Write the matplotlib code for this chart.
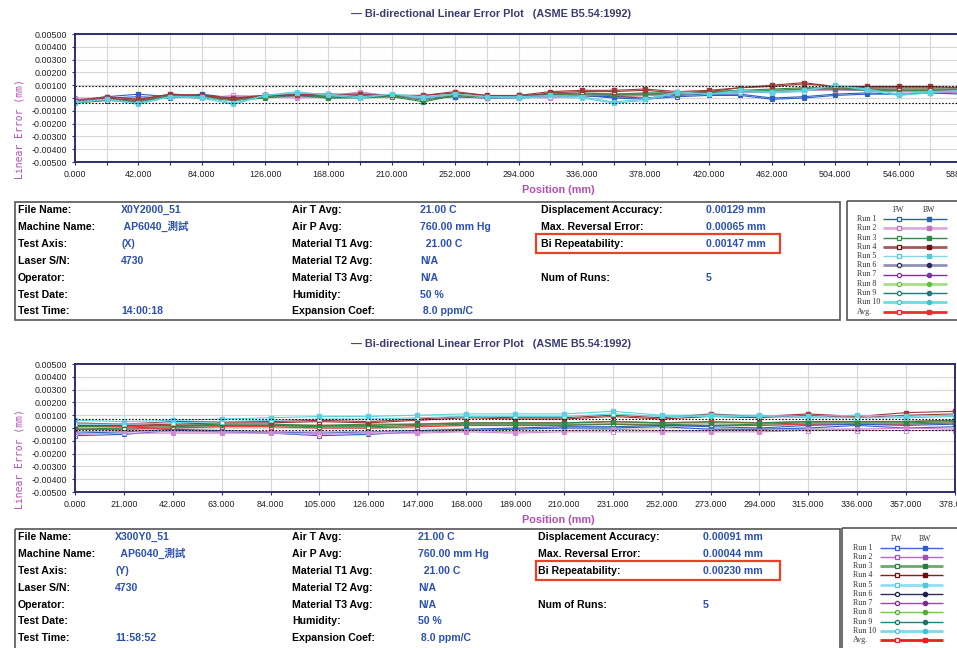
import matplotlib
matplotlib.use('Agg')
import matplotlib.pyplot as plt
from matplotlib.patches import Rectangle
import numpy as np

W, H = 957, 648

# ---- data: linear error in micrometres ----
top_pos = list(range(0, 589, 21))
top_fw = [
    [-0.3, 0.0, 0.1, 0.0, 0.2, -0.1, 0.1, 0.2, 0.0, 0.1, 0.1, 0.0, 0.1, 0.0, 0.0, 0.1, 0.2, 0.0, -0.1, 0.1, 0.2, 0.2, -0.1, 0.0, 0.2, 0.3, 0.3, 0.4, 0.3],
    [-0.1, -0.1, -0.2, 0.1, 0.0, 0.2, 0.1, 0.0, 0.1, 0.5, 0.1, 0.0, 0.2, 0.0, 0.1, 0.0, 0.2, 0.3, 0.2, 0.3, 0.4, 0.4, 0.5, 0.6, 0.7, 0.6, 0.6, 0.5, 0.4],
    [-0.4, -0.2, -0.3, 0.1, 0.0, -0.2, 0.0, 0.2, 0.0, 0.0, 0.1, -0.3, 0.2, 0.1, 0.1, 0.3, 0.3, 0.3, 0.3, 0.3, 0.4, 0.5, 0.6, 0.7, 0.7, 0.6, 0.6, 0.6, 0.7],
    [-0.3, 0.0, -0.2, 0.3, 0.2, -0.1, 0.2, 0.2, 0.3, 0.2, 0.2, 0.2, 0.4, 0.2, 0.1, 0.4, 0.5, 0.5, 0.6, 0.4, 0.5, 0.8, 0.9, 1.1, 0.9, 0.8, 0.8, 0.8, 0.8],
    [-0.4, -0.1, -0.5, 0.1, 0.0, -0.5, 0.2, 0.5, 0.2, 0.0, 0.3, 0.0, 0.3, 0.1, 0.0, 0.1, 0.0, -0.4, -0.2, 0.4, 0.3, 0.5, 0.4, 0.5, 1.0, 0.6, 0.2, 0.4, 0.6],
]
top_bw = [
    [-0.2, 0.1, 0.3, 0.1, 0.3, 0.0, 0.2, 0.2, 0.1, 0.1, 0.2, 0.0, 0.1, 0.0, 0.1, 0.2, 0.2, 0.1, 0.0, 0.2, 0.3, 0.3, 0.0, 0.1, 0.3, 0.4, 0.3, 0.4, 0.4],
    [0.0, 0.0, -0.1, 0.2, 0.1, 0.1, 0.2, 0.1, 0.0, 0.4, 0.2, 0.1, 0.2, 0.1, 0.0, 0.1, 0.3, 0.3, 0.3, 0.3, 0.4, 0.5, 0.5, 0.6, 0.6, 0.6, 0.5, 0.5, 0.5],
    [-0.3, -0.1, -0.3, 0.2, 0.1, -0.1, 0.1, 0.3, 0.1, 0.1, 0.2, -0.2, 0.2, 0.1, 0.2, 0.3, 0.4, 0.3, 0.4, 0.4, 0.5, 0.6, 0.7, 0.8, 0.8, 0.7, 0.7, 0.7, 0.7],
    [-0.2, 0.1, -0.1, 0.3, 0.2, 0.0, 0.2, 0.3, 0.3, 0.3, 0.2, 0.2, 0.5, 0.2, 0.2, 0.5, 0.6, 0.6, 0.7, 0.5, 0.6, 0.8, 1.0, 1.2, 0.9, 0.9, 0.9, 0.9, 0.8],
    [-0.3, -0.1, -0.4, 0.1, 0.1, -0.4, 0.2, 0.4, 0.3, 0.1, 0.3, 0.1, 0.3, 0.1, 0.1, 0.2, 0.1, -0.3, -0.1, 0.5, 0.3, 0.6, 0.5, 0.6, 1.0, 0.7, 0.3, 0.5, 0.6],
]
top_avg_fw = [-0.3, -0.1, -0.2, 0.1, 0.1, -0.1, 0.1, 0.2, 0.1, 0.2, 0.1, 0.0, 0.2, 0.1, 0.1, 0.2, 0.2, 0.1, 0.2, 0.3, 0.4, 0.5, 0.5, 0.6, 0.7, 0.6, 0.5, 0.5, 0.6]
top_avg_bw = [-0.2, 0.0, -0.1, 0.2, 0.2, 0.0, 0.2, 0.3, 0.2, 0.2, 0.2, 0.0, 0.3, 0.1, 0.1, 0.3, 0.3, 0.2, 0.3, 0.4, 0.4, 0.6, 0.5, 0.7, 0.7, 0.7, 0.6, 0.6, 0.6]
top_band = [0.92, -0.40]

bot_pos = list(range(0, 379, 21))
bot_fw = [
    [-0.6, -0.5, -0.2, -0.3, -0.4, -0.6, -0.5, -0.3, -0.2, -0.1, 0.0, 0.0, 0.1, -0.1, -0.1, 0.0, 0.2, 0.0, 0.1],
    [-0.5, -0.4, -0.4, -0.4, -0.4, -0.5, -0.4, -0.4, -0.3, -0.4, -0.3, -0.3, -0.3, -0.3, -0.3, -0.2, -0.2, -0.2, -0.2],
    [-0.1, 0.0, 0.1, 0.2, 0.2, 0.1, 0.1, 0.2, 0.3, 0.3, 0.3, 0.3, 0.3, 0.2, 0.3, 0.4, 0.4, 0.4, 0.5],
    [0.2, 0.2, 0.3, 0.4, 0.4, 0.5, 0.4, 0.6, 0.8, 0.7, 0.7, 0.9, 0.7, 0.9, 0.8, 1.0, 0.8, 1.0, 1.1],
    [0.3, 0.3, 0.4, 0.5, 0.6, 0.7, 0.7, 0.8, 0.9, 0.9, 0.9, 1.1, 0.9, 0.9, 0.9, 0.8, 0.8, 0.8, 0.9],
]
bot_bw = [
    [-0.4, -0.3, -0.1, -0.2, -0.3, -0.4, -0.3, -0.2, -0.1, 0.0, 0.1, 0.1, 0.2, 0.1, 0.0, 0.2, 0.3, 0.2, 0.3],
    [-0.3, -0.2, -0.3, -0.3, -0.3, -0.3, -0.3, -0.3, -0.2, -0.3, -0.2, -0.1, -0.2, -0.2, -0.2, -0.1, -0.1, 0.0, -0.1],
    [0.1, 0.2, 0.2, 0.3, 0.3, 0.2, 0.3, 0.3, 0.4, 0.4, 0.4, 0.5, 0.4, 0.4, 0.4, 0.5, 0.5, 0.5, 0.6],
    [0.4, 0.3, 0.5, 0.5, 0.5, 0.6, 0.5, 0.7, 0.9, 0.8, 0.8, 1.0, 0.8, 1.1, 0.9, 1.1, 0.9, 1.2, 1.3],
    [0.6, 0.5, 0.6, 0.7, 0.8, 0.9, 0.9, 1.0, 1.1, 1.1, 1.1, 1.3, 1.0, 1.0, 1.0, 0.9, 1.0, 0.9, 1.0],
]
bot_avg_fw = [-0.1, -0.1, 0.0, 0.1, 0.1, 0.0, 0.0, 0.1, 0.2, 0.2, 0.2, 0.3, 0.2, 0.2, 0.2, 0.3, 0.3, 0.3, 0.4]
bot_avg_bw = [0.1, 0.1, 0.2, 0.2, 0.2, 0.2, 0.2, 0.3, 0.4, 0.4, 0.4, 0.5, 0.4, 0.5, 0.4, 0.5, 0.5, 0.5, 0.6]
bot_band = [0.72, -0.15]

run_colors = ['#2c5fc0', '#d08ad0', '#2e8b45', '#9c3a3a', '#60cfe0']
avg_color = '#e84040'

# ---- report text ----
labels_c1 = ['File Name:', 'Machine Name:', 'Test Axis:', 'Laser S/N:', 'Operator:', 'Test Date:', 'Test Time:']
labels_c2 = ['Air T Avg:', 'Air P Avg:', 'Material T1 Avg:', 'Material T2 Avg:', 'Material T3 Avg:', 'Humidity:', 'Expansion Coef:']
labels_c3 = ['Displacement Accuracy:', 'Max. Reversal Error:', 'Bi Repeatability:', '', 'Num of Runs:', '', '']
top_c1 = ['X0Y2000_51', ' AP6040_測試', '(X)', '4730', '', '', '14:00:18']
top_c2 = ['21.00 C', '760.00 mm Hg', '  21.00 C', 'N/A', 'N/A', '50 %', ' 8.0 ppm/C']
top_c3 = ['0.00129 mm', '0.00065 mm', '0.00147 mm', '', '5', '', '']
bot_c1 = ['X300Y0_51', '  AP6040_測試', '(Y)', '4730', '', '', '11:58:52']
bot_c2 = ['21.00 C', '760.00 mm Hg', '  21.00 C', 'N/A', 'N/A', '50 %', ' 8.0 ppm/C']
bot_c3 = ['0.00091 mm', '0.00044 mm', '0.00230 mm', '', '5', '', '']

legend_names = ['Run 1', 'Run 2', 'Run 3', 'Run 4', 'Run 5', 'Run 6', 'Run 7', 'Run 8', 'Run 9', 'Run 10', 'Avg.']
# (line colour, marker colour, line width, marker)
top_legend = [('#2c5fc0', '#2c5fc0', 1.0, 's'), ('#dcaadc', '#c070c0', 2.0, 's'),
              ('#2e8b45', '#2e8b45', 1.0, 's'), ('#a85858', '#6a1010', 2.0, 's'),
              ('#80d8e8', '#50c8d8', 1.0, 's'), ('#9090b0', '#2a2a60', 2.0, 'o'),
              ('#8030a0', '#8030a0', 1.0, 'o'), ('#a8dc88', '#60c040', 2.0, 'o'),
              ('#207878', '#207878', 1.0, 'o'), ('#70d8e0', '#40c0d0', 2.0, 'o'),
              ('#e83030', '#e83030', 2.0, 's')]
bot_legend = [('#3a6acc', '#2c5fc0', 1.0, 's'), ('#b868c8', '#a050b0', 1.0, 's'),
              ('#6aaa6a', '#2e7a3a', 2.0, 's'), ('#8b1a1a', '#6a1010', 1.0, 's'),
              ('#90e0f0', '#50c8d8', 2.0, 's'), ('#303060', '#202050', 1.0, 'o'),
              ('#9848b0', '#7a2a90', 1.0, 'o'), ('#70c850', '#50b030', 1.0, 'o'),
              ('#208080', '#207070', 1.0, 'o'), ('#80d8e8', '#40c0d0', 2.0, 'o'),
              ('#e82020', '#e82020', 2.0, 's')]

NAVY = '#2e2e6e'
PURPLE = '#b050b0'
BLUE = '#2a50b0'
SANS = ['Liberation Sans', 'Noto Sans CJK TC', 'DejaVu Sans']

fig = plt.figure(figsize=(W / 100, H / 100), dpi=100)
fig.patch.set_facecolor('white')

# overlay in pixel coordinates for report text and boxes
ov = fig.add_axes([0, 0, 1, 1])
ov.set_xlim(0, W)
ov.set_ylim(H, 0)
ov.axis('off')


def draw_chart(dy, pos, fw, bw, avg_fw, avg_bw, band, xmax, right_px, label_step):
    left, top, bottom = 75, 34 + dy, 162 + dy
    ax = fig.add_axes([left / W, 1 - bottom / H, (right_px - left) / W, (bottom - top) / H])
    ax.set_facecolor('white')
    # average first so the runs sit over it
    ax.plot(pos, np.array(avg_fw) * 1e-3, color=avg_color, lw=1.0, marker='s', ms=2.2,
            mfc='white', mec=avg_color, mew=0.7)
    ax.plot(pos, np.array(avg_bw) * 1e-3, color=avg_color, lw=1.0, marker='s', ms=2.2)
    for k in range(len(fw)):
        c = run_colors[k]
        ax.plot(pos, np.array(fw[k]) * 1e-3, color=c, lw=0.8, marker='s', ms=2.3,
                mfc='white', mec=c, mew=0.7)
        ax.plot(pos, np.array(bw[k]) * 1e-3, color=c, lw=0.8, marker='s', ms=2.3,
                mfc=c, mec=c)
    for b in band:
        ax.axhline(b * 1e-3, color='#111111', lw=0.8, ls=(0, (1.5, 1.5)))

    ax.set_xlim(0, xmax)
    ax.set_ylim(-0.005, 0.005)
    xt = np.arange(0, xmax + 1, label_step)
    ax.set_xticks(xt, labels=[f'{v:.3f}' for v in xt])
    ax.set_xticks(np.arange(0, xmax + 1, 21), minor=True)
    yt = np.linspace(-0.005, 0.005, 11)
    ax.set_yticks(yt, labels=[f'{v:.5f}'.replace('-0.00000', '0.00000') for v in yt])
    ax.grid(True, which='both', color='#d6d6d6', lw=0.8)
    ax.set_axisbelow(True)
    ax.tick_params(which='both', direction='out', length=2.5, width=0.8, color=NAVY,
                   labelsize=6.4, labelcolor='#222222', pad=3)
    for lab in ax.get_xticklabels() + ax.get_yticklabels():
        lab.set_family(SANS)
    for sp in ax.spines.values():
        sp.set_color(NAVY)
        sp.set_linewidth(1.4)

    ov.text(491, 14 + dy, '— Bi-directional Linear Error Plot   (ASME B5.54:1992)',
            ha='center', va='center', fontsize=7.8, fontweight='bold', color='#3b3b72',
            family=SANS)
    ov.text(20, 129 + dy, 'Linear Error (mm)', rotation=90, ha='center', va='center',
            fontsize=7, color=PURPLE, family='DejaVu Sans Mono')
    ov.text(558, 190 + dy, 'Position (mm)', ha='center', va='center', fontsize=7.8,
            fontweight='bold', color=PURPLE, family=SANS)


def draw_report(dy, c1, c2, c3, xs, legend_style, lg):
    ov.add_patch(Rectangle((15, 202 + dy), 825, lg['h'], fill=False, ec='#555555', lw=1.2))
    ov.add_patch(Rectangle((lg['box'], 201 + dy), 130, lg['h'] + 1, fill=False, ec='#555555', lw=1.2))
    rows = [210 + dy + 16.9 * i for i in range(7)]
    for i, y in enumerate(rows):
        ov.text(18, y, labels_c1[i], fontsize=7.6, fontweight='bold', va='center', family=SANS)
        ov.text(xs[0], y, c1[i], fontsize=7.6, fontweight='bold', va='center', color=BLUE, family=SANS)
        ov.text(292, y, labels_c2[i], fontsize=7.6, fontweight='bold', va='center', family=SANS)
        ov.text(xs[1], y, c2[i], fontsize=7.6, fontweight='bold', va='center', color=BLUE, family=SANS)
        ov.text(xs[2], y, labels_c3[i], fontsize=7.6, fontweight='bold', va='center', family=SANS)
        ov.text(xs[3], y, c3[i], fontsize=7.6, fontweight='bold', va='center', color=BLUE, family=SANS)
    ov.add_patch(Rectangle((536, rows[2] - 9.5), 244, 19, fill=False, ec='#e8402a', lw=1.6))

    # FW / BW legend
    hy = 210 + dy + lg['hdy']
    ov.text(lg['fw'], hy, 'FW', fontsize=5.6, ha='center', va='center', family='Liberation Serif', color='#333333')
    ov.text(lg['bw'], hy, 'BW', fontsize=5.6, ha='center', va='center', family='Liberation Serif', color='#333333')
    for i, (name, (lc, mc, lw, mk)) in enumerate(zip(legend_names, legend_style)):
        y = lg['y0'] + dy + 9.25 * i
        ov.text(lg['tx'], y, name, fontsize=5.8, va='center', family='Liberation Serif', color='#333333')
        ov.plot([lg['x0'], lg['x1']], [y, y], color=lc, lw=lw, solid_capstyle='butt')
        ov.plot([lg['fw']], [y], marker=mk, ms=3, mfc='white', mec=mc, mew=0.9)
        ov.plot([lg['bw']], [y], marker=mk, ms=3, mfc=mc, mec=mc)


draw_chart(0, top_pos, top_fw, top_bw, top_avg_fw, top_avg_bw, top_band, 588, 962, 42)
draw_chart(330, bot_pos, bot_fw, bot_bw, bot_avg_fw, bot_avg_bw, bot_band, 378, 955, 21)

draw_report(0, top_c1, top_c2, top_c3, [121, 420, 541, 706], top_legend,
            dict(box=847, tx=857, x0=883, x1=947, fw=899, bw=929, y0=219, hdy=0, h=118))
draw_report(327, bot_c1, bot_c2, bot_c3, [115, 418, 538, 703], bot_legend,
            dict(box=842, tx=853, x0=880, x1=943, fw=897, bw=925, y0=220.7, hdy=2, h=130))

fig.savefig('out.png', dpi=100, facecolor='white')
